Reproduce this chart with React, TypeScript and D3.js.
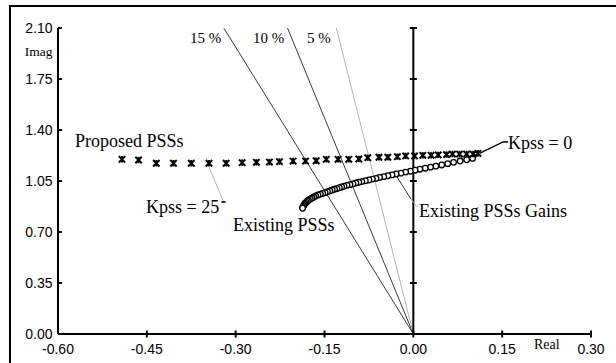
import React from "react";
import * as d3 from "d3";

const xTicks = [-0.6, -0.45, -0.3, -0.15, 0, 0.15, 0.3];
const yTicks = [0, 0.35, 0.7, 1.05, 1.4, 1.75, 2.1];

// damping lines: label and real part at the top (imag 2.10)
const dampLabels = ["15 %", "10 %", "5 %"];
const dampTopReal = [-0.32, -0.2125, -0.13];

const proposedReal = [
  -0.492, -0.464, -0.434, -0.405, -0.375, -0.345, -0.316, -0.289, -0.265, -0.243, -0.226,
  -0.203, -0.182, -0.164, -0.147, -0.127, -0.109, -0.092, -0.077, -0.058, -0.043, -0.027,
  -0.013, 0.002, 0.016, 0.03, 0.042, 0.056, 0.066, 0.078, 0.09, 0.101, 0.109,
];
const proposedImag = [
  1.199, 1.194, 1.172, 1.172, 1.172, 1.172, 1.172, 1.176, 1.178, 1.18, 1.183,
  1.187, 1.187, 1.189, 1.199, 1.199, 1.199, 1.201, 1.21, 1.213, 1.213, 1.217,
  1.222, 1.222, 1.226, 1.226, 1.229, 1.231, 1.235, 1.235, 1.235, 1.235, 1.24,
];

const existingReal = [
  0.1, 0.09, 0.079, 0.068, 0.058, 0.048, 0.038, 0.029, 0.02, 0.011, 0.003, -0.005, -0.013,
  -0.021, -0.029, -0.036, -0.043, -0.05, -0.057, -0.063, -0.069, -0.075, -0.081, -0.087,
  -0.092, -0.097, -0.102, -0.107, -0.112, -0.117, -0.121, -0.125, -0.129, -0.133, -0.137,
  -0.141, -0.145, -0.149, -0.153, -0.157, -0.161, -0.165, -0.168, -0.171, -0.174, -0.177,
  -0.179, -0.181, -0.183, -0.184, -0.185, -0.186, -0.187, -0.187,
];
const existingImag = [
  1.205, 1.196, 1.187, 1.178, 1.169, 1.16, 1.152, 1.145, 1.138, 1.131, 1.124, 1.117, 1.111,
  1.104, 1.098, 1.092, 1.086, 1.08, 1.074, 1.068, 1.063, 1.057, 1.052, 1.046,
  1.041, 1.036, 1.03, 1.025, 1.02, 1.014, 1.009, 1.004, 0.999, 0.993, 0.988,
  0.982, 0.976, 0.97, 0.965, 0.96, 0.954, 0.947, 0.94, 0.933, 0.926, 0.918,
  0.911, 0.903, 0.896, 0.889, 0.882, 0.875, 0.869, 0.863,
];

// leader lines in data units
const leaderKpss0 = [[0.1126, 1.242], [0.1515, 1.318], [0.16, 1.318]];
const leaderKpss25 = [[-0.345, 1.146], [-0.3204, 0.906]];
const dashKpss25 = [[-0.324, 0.906], [-0.317, 0.906]];
const leaderGains1 = [[-0.0275, 1.077], [-0.0039, 0.926]];
const leaderGains2 = [[-0.0039, 0.926], [0.0063, 0.872]];

const W = 616;
const H = 363;
const serif = "'Liberation Serif', 'Times New Roman', serif";
const sans = "'Liberation Sans', Arial, sans-serif";

export default function App() {
  const x = d3.scaleLinear().domain([-0.6, 0.3]).range([58, 591]);
  const y = d3.scaleLinear().domain([0, 2.1]).range([334, 28]);
  const line = d3
    .line<number[]>()
    .x((d) => x(d[0]))
    .y((d) => y(d[1]));
  const dampColors = ["#222", "#222", "#aaa"];

  return (
    <svg
      width={W}
      height={H}
      style={{ position: "absolute", left: 0, top: 0, background: "#fff" }}
    >
      <rect x={0} y={0} width={W} height={H} fill="#fff" />
      {/* outer border */}
      <rect x={10} y={6} width={700} height={500} fill="none" stroke="#000" strokeWidth={2} />

      {/* damping lines */}
      {dampTopReal.map((r, i) => (
        <line
          key={"d" + i}
          x1={x(0)}
          y1={y(0)}
          x2={x(r)}
          y2={y(2.1)}
          stroke={dampColors[i]}
          strokeWidth={0.9}
        />
      ))}
      {dampLabels.map((t, i) => (
        <text
          key={"dl" + i}
          x={[190, 253, 307][i]}
          y={43}
          fontFamily={serif}
          fontSize={15}
          fill="#000"
        >
          {t}
        </text>
      ))}

      {/* left axis */}
      <line x1={x(-0.6)} y1={y(0)} x2={x(-0.6)} y2={y(2.1)} stroke="#000" strokeWidth={2} />
      {yTicks.map((v) => (
        <g key={"yt" + v}>
          <line x1={x(-0.6)} x2={x(-0.6) + 4} y1={y(v)} y2={y(v)} stroke="#000" strokeWidth={2} />
          <text
            x={52.5}
            y={y(v) + 5}
            textAnchor="end"
            fontFamily={sans}
            fontSize={14}
            fill="#000"
          >
            {v.toFixed(2)}
          </text>
        </g>
      ))}
      {/* zero vertical axis */}
      <line x1={x(0)} y1={y(0)} x2={x(0)} y2={y(2.1)} stroke="#000" strokeWidth={2} />
      {yTicks.slice(1).map((v) => (
        <line
          key={"zt" + v}
          x1={x(0) - 3.5}
          x2={x(0) + 3.5}
          y1={y(v)}
          y2={y(v)}
          stroke="#000"
          strokeWidth={2}
        />
      ))}
      {/* x axis */}
      <line x1={x(-0.6)} y1={y(0)} x2={x(0.3)} y2={y(0)} stroke="#000" strokeWidth={2} />
      {xTicks.map((v) => (
        <g key={"xt" + v}>
          {v > -0.6 && (
            <line x1={x(v)} x2={x(v)} y1={y(0) - 3.5} y2={y(0) + 3.5} stroke="#000" strokeWidth={2} />
          )}
          <text
            x={x(v)}
            y={353.5}
            textAnchor="middle"
            fontFamily={sans}
            fontSize={14}
            fill="#000"
          >
            {v.toFixed(2)}
          </text>
        </g>
      ))}
      <text x={52.5} y={55.5} textAnchor="end" fontFamily={serif} fontSize={13.5} fill="#000">
        Imag
      </text>
      <text x={534} y={349} fontFamily={serif} fontSize={14} fill="#000">
        Real
      </text>

      {/* leader lines */}
      <path d={line(leaderKpss0) || ""} fill="none" stroke="#000" strokeWidth={1.4} />
      <path d={line(leaderKpss25) || ""} fill="none" stroke="#aaa" strokeWidth={0.9} />
      <path d={line(dashKpss25) || ""} fill="none" stroke="#000" strokeWidth={1.6} />
      <path d={line(leaderGains1) || ""} fill="none" stroke="#222" strokeWidth={0.9} />
      <path d={line(leaderGains2) || ""} fill="none" stroke="#aaa" strokeWidth={0.9} />

      {/* existing PSSs: open circles */}
      {existingReal.map((r, i) => (
        <circle
          key={"e" + i}
          cx={x(r)}
          cy={y(existingImag[i])}
          r={2.8}
          fill="#fff"
          stroke="#000"
          strokeWidth={1.3}
        />
      ))}

      {/* proposed PSSs: star markers */}
      {proposedReal.map((r, i) => {
        const cx = x(r);
        const cy = y(proposedImag[i]);
        const a = 3.2;
        return (
          <g key={"p" + i} stroke="#000" strokeWidth={2}>
            <line x1={cx - a} y1={cy - a} x2={cx + a} y2={cy + a} />
            <line x1={cx - a} y1={cy + a} x2={cx + a} y2={cy - a} />
            <line x1={cx} y1={cy - a} x2={cx} y2={cy + a} />
          </g>
        );
      })}

      {/* annotations */}
      <text x={75} y={147} fontFamily={serif} fontSize={18} fill="#000">
        Proposed PSSs
      </text>
      <text x={508} y={149} fontFamily={serif} fontSize={18} fill="#000">
        Kpss = 0
      </text>
      <text x={146} y={213} fontFamily={serif} fontSize={18} fill="#000">
        Kpss = 25
      </text>
      <text x={233} y={231} fontFamily={serif} fontSize={18} fill="#000">
        Existing PSSs
      </text>
      <text x={419} y={217} fontFamily={serif} fontSize={18} fill="#000">
        Existing PSSs Gains
      </text>
    </svg>
  );
}
